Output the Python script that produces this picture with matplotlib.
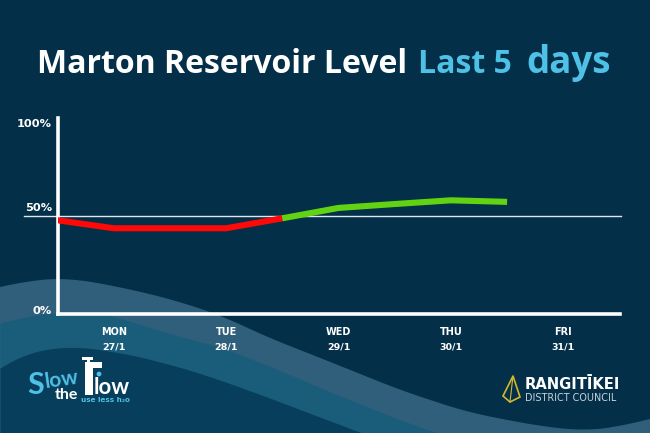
import numpy as np
import matplotlib
matplotlib.use("Agg")
import matplotlib.pyplot as plt
from matplotlib.patches import Polygon, Rectangle, Circle

# half-day samples, 0 = start of monday
red_x = [0, 0.5, 1, 1.5, 2]
red_level = [47.7, 43.6, 43.6, 43.6, 48.7]
green_x = [2, 2.5, 3, 3.5, 4]
green_level = [48.7, 54, 56, 57.9, 57.1]

days = ["MON", "TUE", "WED", "THU", "FRI"]
dates = ["27/1", "28/1", "29/1", "30/1", "31/1"]
day_pos = [0.5, 1.5, 2.5, 3.5, 4.5]
y_ticks = [0, 50, 100]
y_labels = ["0%", "50%", "100%"]

# background waves, picture pixels
wave1_x = [0, 33, 67, 110, 167, 220, 267, 333, 400, 467, 533, 583, 617, 650]
wave1_y = [287, 280, 278, 285, 298, 315, 337, 363, 390, 412, 425, 431, 427, 419]
wave2_x = [0, 33, 67, 100, 133, 167, 220, 267, 333, 400, 440, 500]
wave2_y = [323, 315, 312, 313, 322, 333, 347, 365, 393, 420, 434, 445]
wave3_x = [0, 20, 50, 83, 133, 183, 220, 267, 333, 370, 420]
wave3_y = [368, 356, 348, 347, 355, 368, 380, 397, 422, 436, 445]

bg_color = "#032f49"
white = "#ffffff"
blue = "#4fc0e6"

fig = plt.figure(figsize=(6.5, 4.33), dpi=100, facecolor=bg_color)

# full figure axes in pixels for the background and logos
bg = fig.add_axes([0, 0, 1, 1])
bg.set_xlim(0, 650)
bg.set_ylim(433, 0)
bg.axis("off")


def smooth(xs, ys):
    xx = np.linspace(xs[0], xs[-1], 400)
    yy = np.interp(xx, xs, ys)
    kernel = np.ones(31) / 31
    # linear padding so the ends keep their slope
    left = yy[0] - (yy[1] - yy[0]) * np.arange(15, 0, -1)
    right = yy[-1] + (yy[-1] - yy[-2]) * np.arange(1, 16)
    return xx, np.convolve(np.r_[left, yy, right], kernel, mode="valid")


for xs, ys, col in [(wave1_x, wave1_y, "#2f5f7a"), (wave2_x, wave2_y, "#195d7b"), (wave3_x, wave3_y, "#073e5c")]:
    xx, yy = smooth(xs, ys)
    bg.fill_between(xx, yy, 450, color=col, lw=0, zorder=1)

bg.text(37, 73, "Marton Reservoir Level", color=white, fontsize=23, fontweight="bold",
        family="Open Sans", ha="left", va="baseline", zorder=5)
bg.text(418, 73, "Last 5", color=blue, fontsize=23, fontweight="bold",
        family="Open Sans", ha="left", va="baseline", zorder=5)
bg.text(526, 73, "days", color=blue, fontsize=26.5, fontweight="bold",
        family="Open Sans", ha="left", va="baseline", zorder=5)

# chart itself
ax = fig.add_axes([57.5 / 650, 1 - 313.5 / 433, 562 / 650, 195.5 / 433])
ax.patch.set_alpha(0)
ax.set_xlim(0, 5)
ax.set_ylim(0, 100)
for s in ["top", "right"]:
    ax.spines[s].set_visible(False)
for s in ["left", "bottom"]:
    ax.spines[s].set_color(white)
    ax.spines[s].set_linewidth(2.6)
ax.axhline(50, xmin=-0.06, xmax=1.003, color="#dfe8ee", lw=1.0, clip_on=False, zorder=1)
ax.plot(red_x, red_level, color="#ff0808", lw=4.4, solid_capstyle="round", solid_joinstyle="round", zorder=3)
ax.plot(green_x, green_level, color="#62d313", lw=4.4, solid_capstyle="butt", solid_joinstyle="round", zorder=4)

# tick labels sit a bit off their gridline in the original
ax.set_yticks(y_ticks)
ax.set_yticklabels([])
ax.tick_params(axis="y", length=0)
for v, lab, dy in zip(y_ticks, y_labels, [1.5, 5.5, -4]):
    ax.annotate(lab, (0, v), xytext=(-4, dy), textcoords="offset points", color=white, fontsize=8.2,
                fontweight="bold", ha="right", va="center", annotation_clip=False)

ax.set_xticks(day_pos)
ax.set_xticklabels([])
ax.tick_params(axis="x", length=0)
for x, d, date in zip(day_pos, days, dates):
    ax.annotate(d, (x, 0), xytext=(0, -13), textcoords="offset points", color=white, fontsize=7,
                fontweight="bold", ha="center", va="center", annotation_clip=False)
    ax.annotate(date, (x, 0), xytext=(0, -24), textcoords="offset points", color=white, fontsize=6.8,
                fontweight="bold", ha="center", va="center", annotation_clip=False)

# slow the flow logo
bg.text(27, 394, "S", color=blue, fontsize=22, fontweight="bold", family="Lato", va="baseline", zorder=5)
bg.text(44, 388, "low", color=blue, fontsize=15, fontweight="bold", family="Lato", va="baseline", rotation=8, zorder=5)
bg.text(55, 399, "the", color=white, fontsize=11.5, fontweight="bold", family="Lato", va="baseline", zorder=5)
bg.text(94, 394, "low", color=white, fontsize=16, fontweight="bold", family="Lato", va="baseline", zorder=5)
bg.text(81, 402, "use less h₂o", color=blue, fontsize=5.2, fontweight="bold", va="baseline", zorder=5)
bg.add_patch(Rectangle((85, 362), 8, 33, color=white, lw=0, zorder=5))
bg.add_patch(Rectangle((85, 362), 17, 6, color=white, lw=0, zorder=5))
bg.add_patch(Rectangle((82, 357), 11, 2.5, color=white, lw=0, zorder=5))
bg.add_patch(Rectangle((87, 358), 3, 5, color=white, lw=0, zorder=5))
bg.add_patch(Circle((99, 374), 2.4, color=blue, lw=0, zorder=5))

# council logo
bg.add_patch(Polygon([[513, 376], [503, 396], [510, 402], [520, 397]], closed=True, fill=False,
                     edgecolor="#d4b62f", lw=1.2, zorder=5))
bg.plot([513, 510], [376, 402], color="#d4b62f", lw=0.8, zorder=5)
bg.text(525, 389, "RANGITĪKEI", color=white, fontsize=10.6, fontweight="bold", va="baseline", zorder=5)
bg.text(525, 401, "DISTRICT COUNCIL", color="#c9d3da", fontsize=6.9, va="baseline", zorder=5)

fig.savefig("out.png", dpi=100, facecolor=bg_color)
